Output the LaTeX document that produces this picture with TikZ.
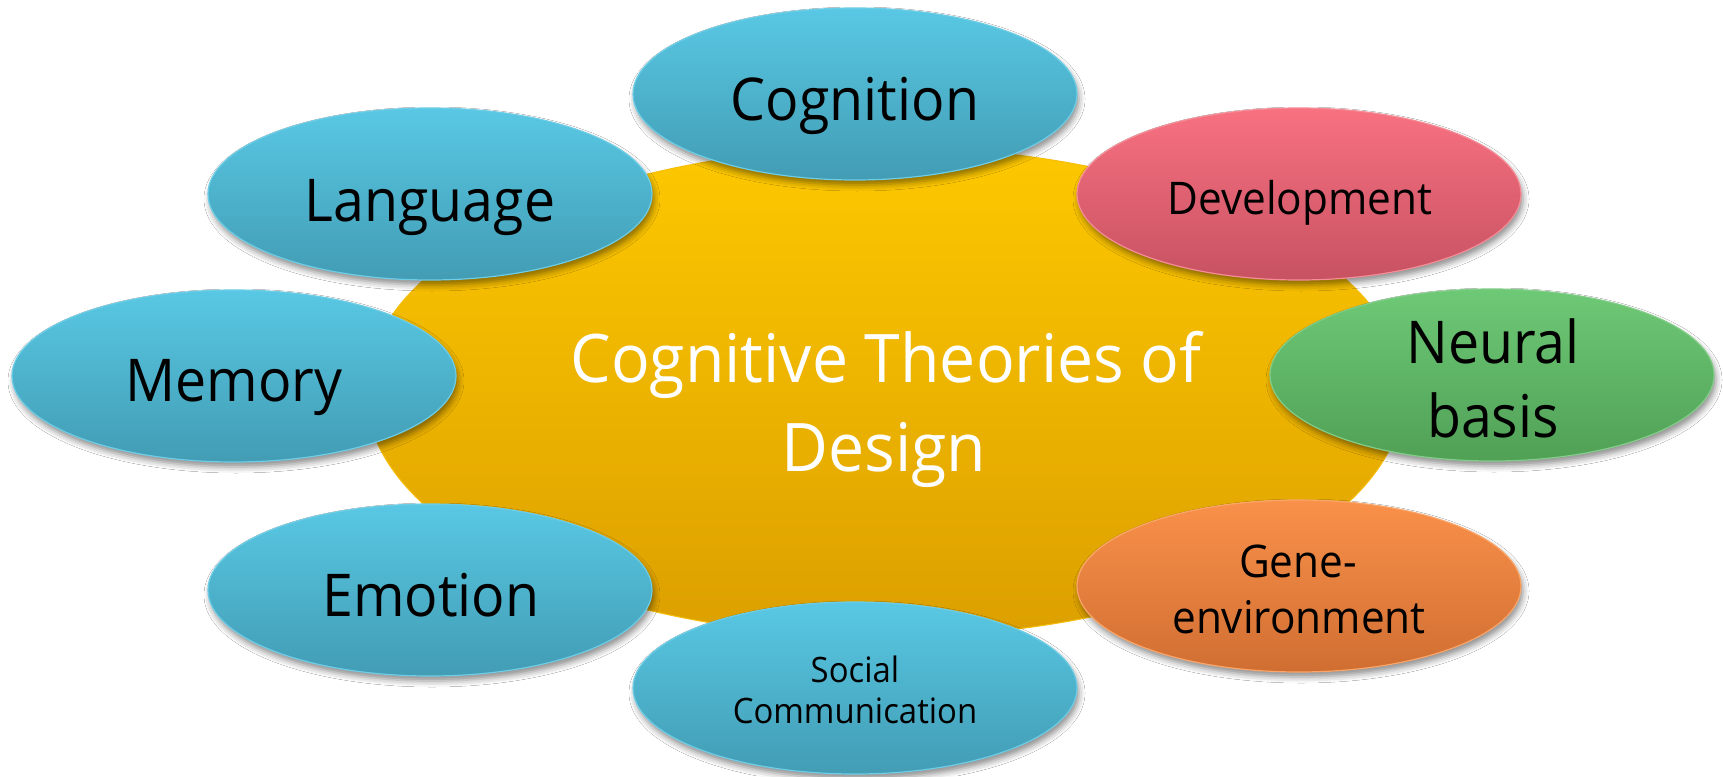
\documentclass[tikz,border=0pt]{standalone}
\usepackage{fontspec}
\setmainfont{Open Sans}
\newfontfamily\satfont[FakeStretch=0.94]{Open Sans}
\newfontfamily\cenfont[FakeStretch=0.96]{Open Sans}
\usetikzlibrary{shapes.geometric,shadows.blur}
\definecolor{bluetop}{RGB}{89,200,228}
\definecolor{bluebot}{RGB}{66,156,180}
\definecolor{blueedge}{RGB}{110,205,230}
\definecolor{redtop}{RGB}{248,113,129}
\definecolor{redbot}{RGB}{199,82,98}
\definecolor{rededge}{RGB}{245,140,150}
\definecolor{greentop}{RGB}{110,201,118}
\definecolor{greenbot}{RGB}{80,160,86}
\definecolor{greenedge}{RGB}{130,205,135}
\definecolor{orangetop}{RGB}{250,145,74}
\definecolor{orangebot}{RGB}{208,110,50}
\definecolor{orangeedge}{RGB}{250,165,105}
\definecolor{yeltop}{RGB}{253,200,0}
\definecolor{yelbot}{RGB}{220,159,0}
\definecolor{yeledge}{RGB}{245,190,10}
\begin{document}
\begin{tikzpicture}[x=1pt,y=-1pt,
  bubble/.style={ellipse, minimum width=444pt, minimum height=172pt, inner sep=0pt, line width=1.2pt,
    blur shadow={shadow xshift=2pt, shadow yshift=-5pt, shadow blur radius=6pt, shadow opacity=45}},
  bluefill/.style={bubble, top color=bluetop, bottom color=bluebot, draw=blueedge},
  redfill/.style={bubble, top color=redtop, bottom color=redbot, draw=rededge},
  greenfill/.style={bubble, top color=greentop, bottom color=greenbot, draw=greenedge},
  orangefill/.style={bubble, top color=orangetop, bottom color=orangebot, draw=orangeedge},
  biglbl/.style={anchor=base, inner sep=0pt, font=\satfont\fontsize{59}{59}\selectfont, text=black},
  midlbl/.style={anchor=base, inner sep=0pt, font=\satfont\fontsize{45}{45}\selectfont, text=black},
  smalllbl/.style={anchor=base, inner sep=0pt, font=\satfont\fontsize{35}{35}\selectfont, text=black},
  cenlbl/.style={anchor=base, inner sep=0pt, font=\cenfont\fontsize{67}{67}\selectfont, text=white}]
\useasboundingbox (0,0) rectangle (1723,776);
\fill[white] (0,0) rectangle (1723,776);

\node[ellipse, minimum width=1038pt, minimum height=490pt, inner sep=0pt,
  top color=yeltop, bottom color=yelbot, draw=yeledge, line width=1pt] (center) at (885,392) {};

\node[bluefill] (cog) at (855,94) {};
\node[redfill] (dev) at (1299,194) {};
\node[greenfill] (neu) at (1492,375) {};
\node[orangefill] (gen) at (1299,586) {};
\node[bluefill] (soc) at (855,688) {};
\node[bluefill] (emo) at (430,590) {};
\node[bluefill] (mem) at (234,376) {};
\node[bluefill] (lan) at (430,194) {};

\node[cenlbl] (tc1) at (886,382) {Cognitive Theories of};
\node[cenlbl] (tc2) at (884,471) {Design};

\node[biglbl] (tcog) at (855,120) {Cognition};
\node[biglbl] (tlan) at (430,221) {Language};
\node[biglbl] (tmem) at (234,401) {Memory};
\node[biglbl] (temo) at (431,616) {Emotion};
\node[biglbl] (tneu1) at (1493,363) {Neural};
\node[biglbl] (tneu2) at (1493,437) {basis};
\node[midlbl] (tdev) at (1300,214) {Development};
\node[midlbl] (tgen1) at (1298,577) {Gene-};
\node[midlbl] (tgen2) at (1299,633) {environment};
\node[smalllbl] (tsoc1) at (855,682) {Social};
\node[smalllbl] (tsoc2) at (855,723) {Communication};
\end{tikzpicture}
\end{document}
